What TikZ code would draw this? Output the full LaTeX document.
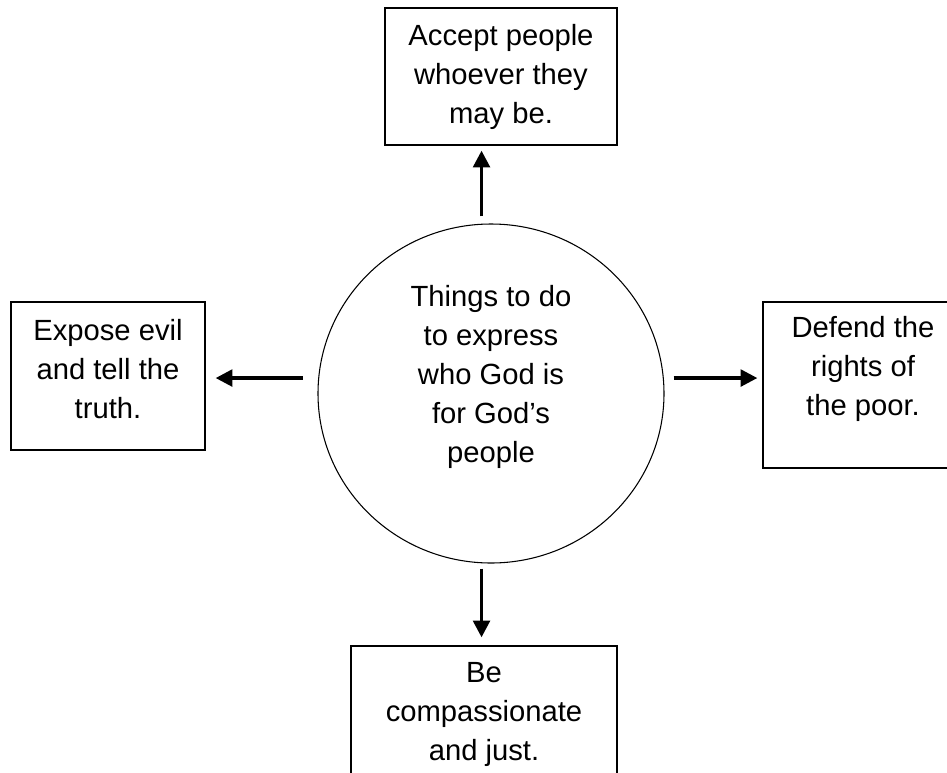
\documentclass[tikz,border=0pt]{standalone}
\usepackage{fontspec}
\setmainfont{Liberation Sans}
\usetikzlibrary{shapes.geometric, arrows.meta}
\tikzstyle{action} = [rectangle, draw=black, line width=1pt, align=center, text centered, font=\fontsize{21.9}{29.25}\selectfont]
\tikzstyle{centre} = [ellipse, draw=black, line width=0.8pt, align=center, text centered, font=\fontsize{21.9}{29.25}\selectfont]
\tikzstyle{arrow} = [line width=2.5pt, -{Triangle[length=12.5pt, width=12.5pt]}]

\begin{document}
\begin{tikzpicture}[x=0.75pt, y=-0.75pt]
\useasboundingbox (0,0) rectangle (947,772);

% Centre
\node (C) [centre, minimum width=259.5pt, minimum height=254.25pt, text depth=30pt] at (491,393.5) {Things to do\\to express\\who God is\\for God’s\\people};

% Things to do
\node (T) [action, minimum width=174pt, minimum height=102.75pt] at (501,76.5) {Accept people\\whoever they\\may be.};
\node (L) [action, minimum width=145.5pt, minimum height=111pt, text depth=10.5pt] at (108,376) {Expose evil\\and tell the\\truth.};
\node (R) [action, minimum width=150pt, minimum height=124.5pt, text depth=28.6pt] at (863,385) {Defend the\\rights of\\the poor.};
\node (B) [action, minimum width=199.5pt, minimum height=102.75pt] at (484,714.5) {Be\\compassionate\\and just.};

% Connecting arrows
\draw [arrow, shorten <=5.25pt, shorten >=3.75pt] ([xshift=-7.1pt]C.north) -- ([xshift=-7.1pt]C.north |- T.south);
\draw [arrow, shorten <=11pt, shorten >=7.5pt] ([yshift=11.6pt]C.west) -- ([yshift=11.6pt]C.west -| L.east);
\draw [arrow, shorten <=6.75pt, shorten >=3.75pt] ([yshift=11.6pt]C.east) -- ([yshift=11.6pt]C.east -| R.west);
\draw [arrow, shorten <=3.75pt, shorten >=6pt] ([xshift=-7.1pt]C.south) -- ([xshift=-7.1pt]C.south |- B.north);

\end{tikzpicture}
\end{document}
